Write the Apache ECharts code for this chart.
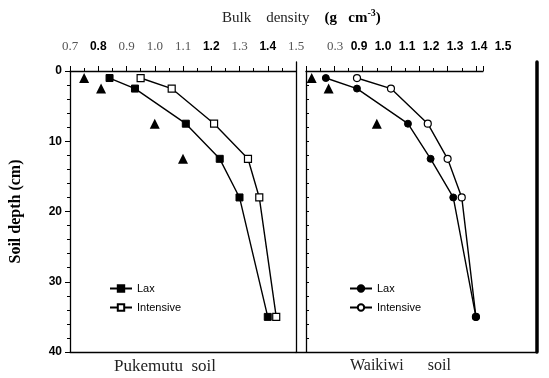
<!DOCTYPE html>
<html>
<head>
<meta charset="utf-8">
<script src="https://cdn.jsdelivr.net/npm/echarts@6/dist/echarts.min.js"></script>
<style>
  html, body { margin: 0; padding: 0; background: #fff; }
  #chart { width: 549px; height: 378px; }
</style>
</head>
<body>
<div id="chart"></div>
<script>
// sampling depths (cm)
const depths = [1, 2.5, 7.5, 12.5, 18, 35];

// Pukemutu soil, bulk density (g cm-3)
const pukeLax = [0.84, 0.93, 1.11, 1.23, 1.30, 1.40];
const pukeIntensive = [0.95, 1.06, 1.21, 1.33, 1.37, 1.43];
const pukeRefDepths = [1, 2.5, 7.5, 12.5];
const pukeRef = [0.75, 0.81, 1.00, 1.10];

// Waikiwi soil
const waikLax = [0.77, 0.88, 1.06, 1.14, 1.22, 1.30];
const waikIntensive = [0.88, 1.00, 1.13, 1.20, 1.25, 1.30];
const waikRefDepths = [1, 2.5, 7.5];
const waikRef = [0.72, 0.78, 0.95];

// tick labels printed over the Waikiwi panel
const waikTickLabels = ['0.3', '0.9', '1.0', '1.1', '1.2', '1.3', '1.4', '1.5'];

const zip = (xs, ys) => xs.map((x, i) => [x, ys[i]]);

const SERIF = 'Liberation Serif';
const SANS = 'Liberation Sans';
const pukeBold = ['0.8', '1.2', '1.4'];

const chart = echarts.init(document.getElementById('chart'));

const lineOnly = (extra) => Object.assign({
  type: 'value', min: 0, max: 1,
  axisLine: { show: true, onZero: false, lineStyle: { color: '#000', width: 1.3 } },
  axisTick: { show: false },
  axisLabel: { show: false },
  splitLine: { show: false }
}, extra);

const labelRich = {
  s: { fontFamily: SERIF, fontSize: 13, color: '#555' },
  b: { fontFamily: SANS, fontSize: 12, fontWeight: 'bold', color: '#000' }
};

const option = {
  animation: false,
  backgroundColor: '#fff',
  title: {
    left: 217, top: 3,
    text: '{r|Bulk    density}   {b|(g   cm}{sup|-3}{b|)}',
    textStyle: {
      fontWeight: 'normal',
      rich: {
        r: { fontFamily: SERIF, fontSize: 15, fontWeight: 'normal', color: '#222', lineHeight: 20 },
        b: { fontFamily: SERIF, fontSize: 15, fontWeight: 'bold', color: '#000', lineHeight: 20 },
        sup: { fontFamily: SERIF, fontSize: 10, fontWeight: 'bold', color: '#000', verticalAlign: 'top', lineHeight: 20 }
      }
    }
  },
  grid: [
    { left: 70, top: 71, width: 226, height: 281 },
    { left: 306, top: 71, width: 177, height: 281 },
    { left: 296, top: 62, width: 241, height: 290 },
    { left: 335, top: 71, width: 168, height: 281 }
  ],
  xAxis: [
    {
      gridIndex: 0, type: 'value', position: 'top', min: 0.7, max: 1.5, interval: 0.1,
      axisLine: { onZero: false, lineStyle: { color: '#000', width: 1.3 } },
      axisTick: { length: 5, lineStyle: { color: '#000' } },
      minorTick: { show: true, splitNumber: 2, length: 3, lineStyle: { color: '#000' } },
      splitLine: { show: false },
      axisLabel: {
        margin: 18,
        formatter: v => {
          const t = v.toFixed(1);
          return pukeBold.includes(t) ? '{b|' + t + '}' : '{s|' + t + '}';
        },
        rich: labelRich
      }
    },
    lineOnly({ gridIndex: 0, position: 'bottom' }),
    {
      gridIndex: 1, type: 'value', position: 'top', min: 0.7, max: 1.325, interval: 0.1,
      axisLine: { onZero: false, lineStyle: { color: '#000', width: 1.3 } },
      axisTick: { length: 5, lineStyle: { color: '#000' } },
      minorTick: { show: true, splitNumber: 2, length: 3, lineStyle: { color: '#000' } },
      splitLine: { show: false },
      axisLabel: { show: false }
    },
    lineOnly({ gridIndex: 2, position: 'bottom' }),
    {
      gridIndex: 3, type: 'category', position: 'top', data: waikTickLabels, boundaryGap: false,
      axisLine: { show: false }, axisTick: { show: false }, splitLine: { show: false },
      axisLabel: {
        interval: 0, margin: 18,
        formatter: t => t === '0.3' ? '{s|' + t + '}' : '{b|' + t + '}',
        rich: labelRich
      }
    }
  ],
  yAxis: [
    {
      gridIndex: 0, type: 'value', inverse: true, min: 0, max: 40, interval: 10,
      name: 'Soil depth (cm)', nameLocation: 'middle', nameGap: 46,
      nameTextStyle: { fontFamily: SERIF, fontSize: 16, fontWeight: 'bold', color: '#000' },
      axisLine: { show: true, onZero: false, lineStyle: { color: '#000', width: 1.3 } },
      axisTick: { show: true, length: 5, lineStyle: { color: '#000' } },
      minorTick: { show: true, splitNumber: 5, length: 3, lineStyle: { color: '#000' } },
      splitLine: { show: false },
      axisLabel: { margin: 8, fontFamily: SANS, fontSize: 12, fontWeight: 'bold', color: '#000' }
    },
    {
      gridIndex: 1, type: 'value', inverse: true, min: 0, max: 40, interval: 2,
      axisLine: { show: true, onZero: false, lineStyle: { color: '#000', width: 1.3 } },
      axisTick: { show: true, inside: true, length: 3, lineStyle: { color: '#000' } },
      splitLine: { show: false },
      axisLabel: { show: false }
    },
    lineOnly({ gridIndex: 2, position: 'left' }),
    lineOnly({ gridIndex: 2, position: 'right', axisLine: { show: true, onZero: false, lineStyle: { color: '#000', width: 3.5 } } }),
    { gridIndex: 3, type: 'value', show: false, min: 0, max: 1 }
  ],
  legend: [
    {
      left: 104, top: 278, orient: 'vertical', itemGap: 8, itemWidth: 22, itemHeight: 8,
      data: ['Lax|P', 'Intensive|P'],
      formatter: n => n.split('|')[0],
      textStyle: { fontFamily: SANS, fontSize: 11, color: '#000' }
    },
    {
      left: 344, top: 278, orient: 'vertical', itemGap: 8, itemWidth: 22, itemHeight: 8,
      data: ['Lax|W', 'Intensive|W'],
      formatter: n => n.split('|')[0],
      textStyle: { fontFamily: SANS, fontSize: 11, color: '#000' }
    }
  ],
  graphic: [
    { type: 'text', left: 114, top: 358, style: { text: 'Pukemutu  soil', fontFamily: SERIF, fontSize: 17, fill: '#222' } },
    { type: 'text', left: 350, top: 358, style: { text: 'Waikiwi      soil', fontFamily: SERIF, fontSize: 16, fill: '#222' } }
  ],
  series: [
    {
      name: 'Intensive|P', type: 'line', xAxisIndex: 0, yAxisIndex: 0,
      data: zip(pukeIntensive, depths), symbol: 'rect', symbolSize: 7,
      lineStyle: { color: '#000', width: 1.4 },
      itemStyle: { color: '#fff', borderColor: '#000', borderWidth: 1.2 }
    },
    {
      name: 'Lax|P', type: 'line', xAxisIndex: 0, yAxisIndex: 0,
      data: zip(pukeLax, depths), symbol: 'rect', symbolSize: 7,
      lineStyle: { color: '#000', width: 1.4 },
      itemStyle: { color: '#000', borderColor: '#000', borderWidth: 1 }
    },
    {
      name: 'Reference|P', type: 'scatter', xAxisIndex: 0, yAxisIndex: 0,
      data: zip(pukeRef, pukeRefDepths), symbol: 'triangle', symbolSize: 10,
      itemStyle: { color: '#000', opacity: 1 }
    },
    {
      name: 'Intensive|W', type: 'line', xAxisIndex: 2, yAxisIndex: 1,
      data: zip(waikIntensive, depths), symbol: 'circle', symbolSize: 7,
      lineStyle: { color: '#000', width: 1.4 },
      itemStyle: { color: '#fff', borderColor: '#000', borderWidth: 1.2 }
    },
    {
      name: 'Lax|W', type: 'line', xAxisIndex: 2, yAxisIndex: 1,
      data: zip(waikLax, depths), symbol: 'circle', symbolSize: 7,
      lineStyle: { color: '#000', width: 1.4 },
      itemStyle: { color: '#000', borderColor: '#000', borderWidth: 1 }
    },
    {
      name: 'Reference|W', type: 'scatter', xAxisIndex: 2, yAxisIndex: 1,
      data: zip(waikRef, waikRefDepths), symbol: 'triangle', symbolSize: 10,
      itemStyle: { color: '#000', opacity: 1 }
    }
  ]
};

chart.setOption(option);
</script>
</body>
</html>
